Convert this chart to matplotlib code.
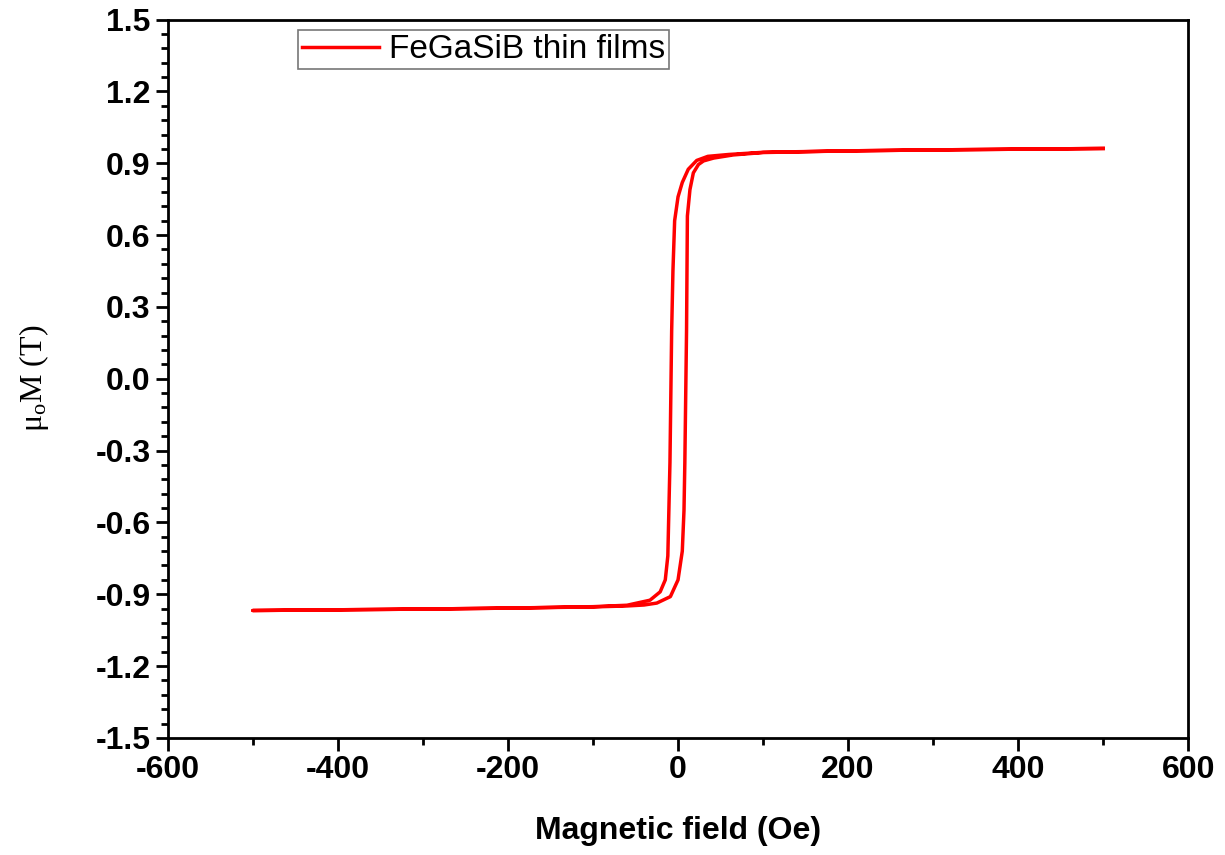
import matplotlib
matplotlib.use('Agg')
import matplotlib.pyplot as plt
from matplotlib.ticker import MultipleLocator, FuncFormatter

plt.rcParams['font.family'] = 'Liberation Sans'
plt.rcParams['axes.unicode_minus'] = False

# descending branch (+500 -> -500 Oe)
h_down = [500, 400, 300, 200, 100, 60, 35, 22, 12, 5, 0, -4, -6, -7.5, -9.5, -12, -15, -21, -33, -60, -100, -200, -300, -400, -500]
m_down = [0.962, 0.959, 0.956, 0.952, 0.946, 0.937, 0.929, 0.912, 0.875, 0.82, 0.76, 0.66, 0.45, 0.2, -0.35, -0.74, -0.84, -0.89, -0.925, -0.946, -0.952, -0.958, -0.962, -0.965, -0.968]

# ascending branch (-500 -> +500 Oe)
h_up = [-500, -400, -300, -200, -100, -60, -40, -25, -9, 0, 5, 7, 8, 10, 11, 14, 18, 24, 30, 42, 65, 100, 200, 300, 400, 500]
m_up = [-0.968, -0.965, -0.962, -0.958, -0.953, -0.949, -0.945, -0.937, -0.91, -0.84, -0.72, -0.55, -0.35, 0.2, 0.68, 0.79, 0.86, 0.895, 0.91, 0.922, 0.935, 0.945, 0.952, 0.956, 0.959, 0.962]

fig = plt.figure(figsize=(12.25, 8.55), dpi=100)
ax = fig.add_axes([0.137, 0.137, 0.833, 0.84])

ax.plot(h_down + h_up, m_down + m_up, color='#ff0000', lw=2.5, label='FeGaSiB thin films')

ax.set_xlim(-600, 600)
ax.set_ylim(-1.5, 1.5)
ax.xaxis.set_major_locator(MultipleLocator(200))
ax.xaxis.set_minor_locator(MultipleLocator(100))
ax.yaxis.set_major_locator(MultipleLocator(0.3))
ax.yaxis.set_minor_locator(MultipleLocator(0.06))
ax.yaxis.set_major_formatter(FuncFormatter(lambda v, p: '%.1f' % (0.0 if abs(v) < 1e-9 else v)))

for s in ax.spines.values():
    s.set_linewidth(2)
ax.tick_params(which='major', direction='out', length=9, width=2, labelsize=23)
ax.tick_params(which='minor', direction='out', length=5, width=2)
for lab in ax.get_xticklabels() + ax.get_yticklabels():
    lab.set_fontweight('bold')

ax.set_xlabel('Magnetic field (Oe)', fontsize=23, fontweight='bold', labelpad=22)
ax.set_ylabel(r'$\mathregular{\mu_oM}$ (T)', fontsize=23, family='Liberation Serif', labelpad=32)

leg = ax.legend(loc='upper left', bbox_to_anchor=(0.1275, 0.985), fontsize=24, frameon=True,
                fancybox=False, handlelength=2.3, borderpad=0.12, handletextpad=0.3, borderaxespad=0)
leg.get_frame().set_edgecolor('#555555')
leg.get_frame().set_linewidth(1.2)

fig.savefig('out.png', dpi=100)
